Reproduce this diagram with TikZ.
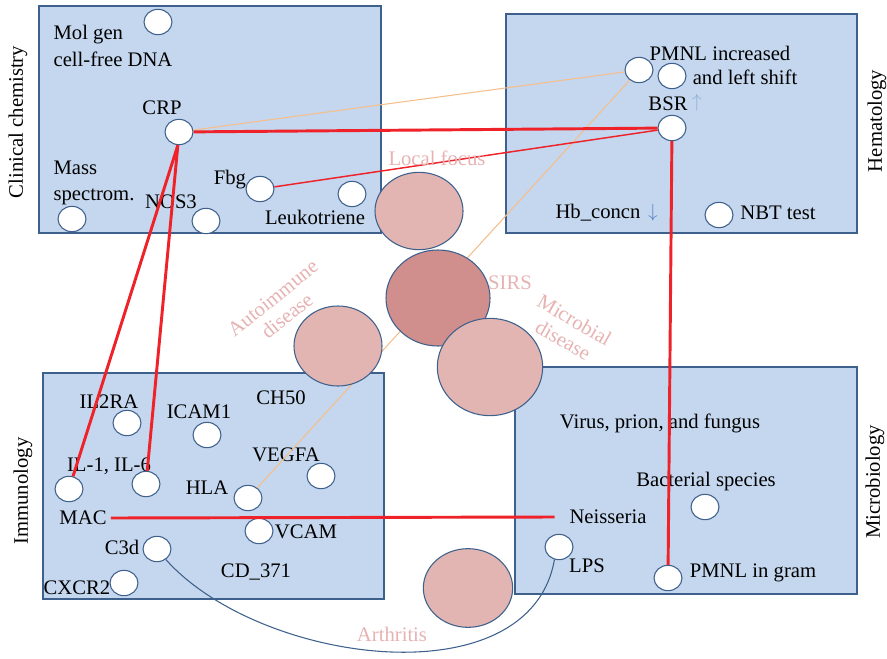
\documentclass[tikz,border=0pt]{standalone}
\usepackage{fontspec}
\setmainfont{Liberation Serif}
\usepackage{tikz}
\usetikzlibrary{shapes.geometric, positioning}
\definecolor{dxBox}{RGB}{197,215,238}
\definecolor{dxEdge}{RGB}{62,96,140}
\definecolor{dxRose}{RGB}{226,181,179}
\definecolor{dxSirs}{RGB}{208,143,141}
\definecolor{dxPink}{RGB}{230,178,178}
\definecolor{dxRed}{RGB}{238,34,40}
\definecolor{dxOrange}{RGB}{245,190,140}
\definecolor{dxUp}{RGB}{140,175,215}
\definecolor{dxDown}{RGB}{80,130,195}

\begin{document}
\begin{tikzpicture}[
  x=0.75pt, y=-0.75pt,
  field/.style={draw=dxEdge, fill=dxBox, line width=0.8pt},
  spot/.style={ellipse, draw=dxEdge, fill=white, line width=0.8pt, minimum width=21pt, minimum height=19pt, inner sep=0pt},
  blob/.style={ellipse, draw=dxEdge, fill=dxRose, line width=0.8pt, inner sep=0pt},
  lbl/.style={font=\fontsize{15.5}{20}\selectfont, inner sep=0pt},
  area/.style={lbl, rotate=90},
  theme/.style={lbl, font=\fontsize{15.5}{17}\selectfont, text=dxPink, align=center},
  hot/.style={draw=dxRed, line width=2.2pt},
  warm/.style={draw=dxRed, line width=1.1pt},
  faint/.style={draw=dxOrange, line width=0.8pt}
]
  \useasboundingbox (0,0) rectangle (887,659);

  % the four fields
  \draw[field] (39,6) rectangle (381,233);
  \draw[field] (506,14) rectangle (857,233);
  \draw[field] (43,373) rectangle (384,599);
  \draw[field] (515,367) rectangle (857,594);
  \node[area] (chem) at (18,122) {Clinical chemistry};
  \node[area] (hema) at (877,121) {Hematology};
  \node[area] (immu) at (23,491) {Immunology};
  \node[area] (micro) at (875,482) {Microbiology};

  % clinical chemistry
  \node[spot] (molgen) at (158,22) {};
  \node[lbl, align=left] (molgenlab) at (113,46) {Mol gen\\cell-free DNA};
  \node[lbl] (crplab) at (162,108) {CRP};
  \node[spot] (crp) at (179,132) {};
  \node[lbl, align=left] (masslab) at (94,183) {Mass\\spectrom.};
  \node[spot] (mass) at (72,219) {};
  \node[lbl] (noslab) at (171,202) {NOS3};
  \node[spot] (nos) at (206,221) {};
  \node[lbl] (fbglab) at (230,180) {Fbg};
  \node[spot] (fbg) at (260,189) {};
  \node[spot] (leuko) at (352,194) {};
  \node[lbl] (leukolab) at (315,217) {Leukotriene};

  % hematology
  \node[spot] (pmnl) at (639,70) {};
  \node[spot] (pmnlb) at (672,76) {};
  \node[lbl] (pmnllab) at (720,53) {PMNL increased};
  \node[lbl] (shiftlab) at (745,77) {and left shift};
  \node[lbl] (bsrlab) at (668,104) {BSR};
  \node[lbl, text=dxUp] (bsrup) at (697,103) {$\uparrow$};
  \node[spot] (bsr) at (672,128) {};
  \node[lbl] (hblab) at (598,213) {Hb\_concn};
  \node[lbl, text=dxDown] (hbdown) at (653,213) {$\downarrow$};
  \node[spot] (nbt) at (719,215) {};
  \node[lbl] (nbtlab) at (778,213) {NBT test};

  % immunology
  \node[lbl] (il2lab) at (109,402) {IL2RA};
  \node[spot] (il2) at (127,423) {};
  \node[lbl] (icamlab) at (199,412) {ICAM1};
  \node[spot] (icam) at (207,435) {};
  \node[lbl] (chlab) at (281,398) {CH50};
  \node[lbl] (vegflab) at (286,455) {VEGFA};
  \node[spot] (vegf) at (321,476) {};
  \node[lbl] (illab) at (109,466) {IL-1, IL-6};
  \node[spot] (ila) at (69,489) {};
  \node[spot] (ilb) at (146,484) {};
  \node[lbl] (hlalab) at (207,488) {HLA};
  \node[spot] (hla) at (248,498) {};
  \node[lbl] (mac) at (83,518) {MAC};
  \node[spot] (vcam) at (259,531) {};
  \node[lbl] (vcamlab) at (306,532) {VCAM};
  \node[lbl] (c3dlab) at (122,547) {C3d};
  \node[spot] (c3d) at (157,549) {};
  \node[lbl] (cdlab) at (256,572) {CD\_371};
  \node[lbl] (cxlab) at (77,588) {CXCR2};
  \node[spot] (cx) at (124,583) {};

  % microbiology
  \node[lbl] (viruslab) at (660,423) {Virus, prion, and fungus};
  \node[lbl] (baclab) at (706,482) {Bacterial species};
  \node[spot] (bac) at (705,507) {};
  \node[lbl] (neis) at (608,517) {Neisseria};
  \node[spot] (lps) at (559,547) {};
  \node[lbl] (lpslab) at (587,566) {LPS};
  \node[spot] (gram) at (668,578) {};
  \node[lbl] (gramlab) at (753,573) {PMNL in gram};

  % connectors
  \draw[faint] (crp) -- (pmnl);
  \draw[faint] (pmnl) -- (hla);
  \draw[hot] (crp) -- (bsr);
  \draw[warm] (fbg) -- (bsr);
  \draw[hot] (bsr) -- (gram);
  \draw[hot] (crp.-95) -- (ila);
  \draw[hot] (crp.-95) -- (ilb);
  \draw[hot] ([xshift=3pt]mac.east) -- ([xshift=-11pt]neis.west);
  \draw[dxEdge, line width=0.8pt] (c3d.-50) .. controls (260,665) and (530,700) .. (lps.-110);

  % disease circles
  \node[blob, minimum width=66pt, minimum height=58pt] (local) at (419,211) {};
  \node[blob, fill=dxSirs, minimum width=78pt, minimum height=72pt] (sirs) at (438,298) {};
  \node[blob, minimum width=66pt, minimum height=60pt] (auto) at (338,346) {};
  \node[blob, minimum width=79pt, minimum height=73pt] (microb) at (490,367) {};
  \node[blob, minimum width=67pt, minimum height=59pt] (arth) at (468,588) {};
  \node[theme] (locallab) at (437,158) {Local focus};
  \node[theme] (sirslab) at (510,283) {SIRS};
  \node[theme, rotate=39] (autolab) at (280,307) {Autoimmune\\disease};
  \node[theme, rotate=-30] (microblab) at (569,330) {Microbial\\disease};
  \node[theme] (arthlab) at (392,634) {Arthritis};
\end{tikzpicture}
\end{document}
